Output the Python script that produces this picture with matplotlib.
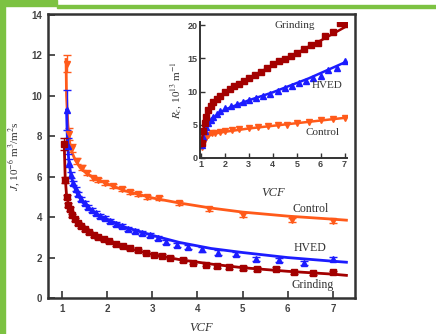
import matplotlib
matplotlib.use("Agg")
import matplotlib.pyplot as plt
from matplotlib.patches import Rectangle

# ---- main panel: flux J vs VCF (markers = measured, lines = fit)
ctrl_vcf = [1.10, 1.15, 1.22, 1.33, 1.44, 1.56, 1.69, 1.80, 1.96, 2.13, 2.33,
            2.51, 2.69, 2.89, 3.15, 3.60, 4.25, 5.00, 6.10, 7.00]
ctrl_j = [11.6, 8.1, 7.4, 6.8, 6.45, 6.2, 5.95, 5.85, 5.7, 5.55, 5.4,
          5.25, 5.15, 5.0, 4.95, 4.7, 4.4, 4.1, 3.85, 3.8]
ctrl_err = [0.4, 0.3, 0.2, 0.15, 0.12, 0.1, 0.1, 0.1, 0.1, 0.1, 0.1,
            0.1, 0.1, 0.1, 0.1, 0.1, 0.1, 0.1, 0.1, 0.1]

hved_vcf = [1.10, 1.13, 1.16, 1.20, 1.25, 1.30, 1.36, 1.42, 1.50, 1.58, 1.66,
            1.75, 1.85, 1.96, 2.07, 2.20, 2.33, 2.47, 2.62, 2.78, 2.95, 3.12,
            3.30, 3.55, 3.80, 4.10, 4.45, 4.85, 5.30, 5.80, 6.35, 7.00]
hved_j = [9.3, 7.5, 6.7, 6.1, 5.7, 5.4, 5.15, 4.9, 4.7, 4.5, 4.35,
          4.2, 4.05, 3.95, 3.8, 3.65, 3.55, 3.4, 3.3, 3.2, 3.1, 2.95,
          2.75, 2.6, 2.5, 2.4, 2.25, 2.2, 1.95, 1.9, 1.75, 1.95]
hved_err = [1.0, 0.4, 0.2, 0.15, 0.1, 0.1, 0.1, 0.1, 0.1, 0.1, 0.1,
            0.1, 0.1, 0.1, 0.1, 0.1, 0.1, 0.1, 0.1, 0.1, 0.1, 0.1,
            0.1, 0.1, 0.1, 0.1, 0.1, 0.1, 0.1, 0.1, 0.1, 0.1]

grind_vcf = [1.05, 1.07, 1.10, 1.14, 1.18, 1.23, 1.29, 1.35, 1.42, 1.50, 1.60,
             1.70, 1.80, 1.92, 2.05, 2.20, 2.35, 2.50, 2.68, 2.85, 3.03, 3.22,
             3.40, 3.69, 3.91, 4.18, 4.44, 4.69, 5.00, 5.33, 5.73, 6.13, 6.56, 7.00]
grind_j = [7.6, 5.85, 5.0, 4.6, 4.4, 4.1, 3.9, 3.7, 3.55, 3.4, 3.25,
           3.1, 3.0, 2.9, 2.8, 2.65, 2.55, 2.45, 2.35, 2.25, 2.15, 2.1,
           2.0, 1.88, 1.75, 1.65, 1.58, 1.53, 1.48, 1.43, 1.45, 1.28, 1.23, 1.28]
grind_err = [0.3, 0.15, 0.1, 0.1, 0.08, 0.08, 0.08, 0.08, 0.08, 0.08, 0.08,
             0.08, 0.08, 0.08, 0.08, 0.08, 0.08, 0.08, 0.08, 0.08, 0.08, 0.08,
             0.08, 0.08, 0.08, 0.08, 0.08, 0.08, 0.08, 0.08, 0.08, 0.08, 0.08, 0.08]

ctrl_fit_x = [1.09, 1.10, 1.13, 1.17, 1.22, 1.30, 1.40, 1.55, 1.75, 2.0, 2.4,
              3.0, 3.6, 4.3, 5.0, 6.0, 7.0, 7.3]
ctrl_fit_j = [11.8, 10.0, 8.6, 7.7, 7.2, 6.8, 6.45, 6.15, 5.9, 5.65, 5.3,
              4.95, 4.7, 4.45, 4.25, 4.05, 3.9, 3.85]
hved_fit_x = [1.10, 1.12, 1.15, 1.20, 1.27, 1.35, 1.45, 1.60, 1.80, 2.0, 2.4,
              3.0, 3.6, 4.3, 5.0, 6.0, 7.0, 7.3]
hved_fit_j = [9.3, 7.8, 6.8, 6.05, 5.5, 5.1, 4.75, 4.4, 4.1, 3.9, 3.5,
              3.1, 2.75, 2.45, 2.25, 2.0, 1.82, 1.77]
grind_fit_x = [1.05, 1.07, 1.10, 1.15, 1.22, 1.30, 1.40, 1.55, 1.75, 2.0, 2.4,
               3.0, 3.6, 4.3, 5.0, 6.0, 7.0, 7.3]
grind_fit_j = [7.6, 6.0, 5.1, 4.55, 4.15, 3.85, 3.6, 3.35, 3.05, 2.85, 2.5,
               2.15, 1.9, 1.68, 1.5, 1.32, 1.18, 1.12]

# ---- inset: cake resistance Rc vs VCF
rc_grind_vcf = [1.05, 1.1, 1.15, 1.2, 1.3, 1.4, 1.5, 1.65, 1.8, 2.0, 2.2, 2.4,
                2.6, 2.8, 3.0, 3.25, 3.5, 3.75, 4.0, 4.25, 4.5, 4.75, 5.0,
                5.3, 5.6, 5.9, 6.2, 6.5, 6.8, 7.0]
rc_grind = [2.3, 4.0, 5.3, 6.2, 7.3, 7.9, 8.4, 8.9, 9.4, 9.9, 10.4, 10.8,
            11.2, 11.6, 12.0, 12.5, 13.0, 13.6, 14.2, 14.6, 14.9, 15.3, 15.8,
            16.5, 17.0, 17.3, 18.4, 19.0, 20.3, 20.2]
rc_hved_vcf = [1.05, 1.1, 1.15, 1.2, 1.3, 1.4, 1.5, 1.65, 1.8, 2.0, 2.25, 2.5,
               2.75, 3.0, 3.3, 3.6, 3.9, 4.2, 4.5, 4.8, 5.1, 5.4, 5.7, 6.0,
               6.3, 6.7, 7.0]
rc_hved = [2.0, 3.2, 4.0, 4.6, 5.3, 5.8, 6.2, 6.7, 7.1, 7.5, 7.9, 8.2,
           8.5, 8.8, 9.1, 9.4, 9.7, 10.1, 10.5, 10.8, 11.3, 11.6, 12.1, 12.4,
           13.2, 13.6, 14.6]
rc_ctrl_vcf = [1.05, 1.1, 1.15, 1.2, 1.3, 1.45, 1.6, 1.8, 2.0, 2.3, 2.6, 3.0,
               3.4, 3.8, 4.2, 4.6, 5.0, 5.5, 6.0, 6.5, 7.0]
rc_ctrl = [1.6, 2.3, 2.9, 3.2, 3.5, 3.7, 3.8, 3.9, 4.0, 4.15, 4.3, 4.5,
           4.6, 4.75, 4.9, 5.0, 5.3, 5.4, 5.7, 5.9, 6.1]

rc_fit_x = [1.02, 1.05, 1.1, 1.2, 1.35, 1.5, 1.75, 2.0, 2.5, 3.0, 3.5, 4.0,
            4.5, 5.0, 5.5, 6.0, 6.5, 7.0]
rc_grind_fit = [1.8, 3.0, 4.3, 5.9, 7.3, 8.2, 9.1, 9.8, 11.0, 12.0, 13.0, 14.0,
                14.9, 15.8, 16.8, 17.7, 18.7, 19.7]
rc_hved_fit = [1.8, 2.6, 3.5, 4.5, 5.4, 6.0, 6.7, 7.3, 8.0, 8.7, 9.3, 9.9,
               10.6, 11.3, 12.0, 12.8, 13.6, 14.4]
rc_ctrl_fit = [1.6, 2.1, 2.6, 3.1, 3.4, 3.6, 3.8, 3.95, 4.2, 4.45, 4.65, 4.85,
               5.05, 5.25, 5.45, 5.65, 5.85, 6.05]

c_ctrl = "#ff5a1a"
c_hved = "#1c1cff"
c_grind = "#a30000"
green = "#7cc242"
serif = "Liberation Serif"
sans = "Liberation Sans"
plt.rcParams["mathtext.fontset"] = "stix"

fig = plt.figure(figsize=(4.36, 3.34), dpi=100)

# green page decoration around the figure
fig.patches.append(Rectangle((0, 0), 5 / 436, 1, transform=fig.transFigure,
                             color=green, zorder=-1))
fig.patches.append(Rectangle((0, 1 - 6 / 334), 57 / 436, 6 / 334,
                             transform=fig.transFigure, color=green, zorder=-1))
fig.patches.append(Rectangle((57 / 436, 1 - 7.5 / 334), 1, 2.5 / 334,
                             transform=fig.transFigure, color=green, zorder=-1))

ax = fig.add_axes([48 / 436, 36 / 334, 307 / 436, 284 / 334])

series = [
    (ctrl_vcf, ctrl_j, ctrl_err, ctrl_fit_x, ctrl_fit_j, c_ctrl, "v"),
    (hved_vcf, hved_j, hved_err, hved_fit_x, hved_fit_j, c_hved, "^"),
    (grind_vcf, grind_j, grind_err, grind_fit_x, grind_fit_j, c_grind, "s"),
]
for x, y, e, fx, fy, col, mk in series:
    ax.errorbar(x, y, yerr=e, fmt=mk, color=col, ms=5, mec=col,
                elinewidth=1, capsize=3, capthick=1)
    ax.plot(fx, fy, color=col, lw=2)

ax.set_xlim(0.69, 7.49)
ax.set_ylim(0, 14.05)
ax.set_xticks(range(1, 8))
ax.set_yticks(range(0, 15, 2))
ax.tick_params(direction="in", length=5, width=1.2, colors="#333333",
               labelsize=7, pad=4)
for lab in ax.get_xticklabels() + ax.get_yticklabels():
    lab.set_fontfamily(sans)
    lab.set_fontweight("bold")
    lab.set_color("#444444")
for sp in ax.spines.values():
    sp.set_linewidth(1.8)
    sp.set_color("#333333")

ax.set_xlabel("VCF", fontfamily=serif, fontstyle="italic", fontsize=9,
              color="#333333", labelpad=6)
ax.set_ylabel(r"$J$, 10$^{-6}$ m$^3$/m$^2$s", fontfamily=serif, fontsize=8,
              color="#333333", labelpad=6)

ax.text(6.51, 4.4, "Control", fontfamily=serif, fontsize=8.5,
        color="#333333", ha="center", va="center")
ax.text(6.5, 2.47, "HVED", fontfamily=serif, fontsize=8.5,
        color="#333333", ha="center", va="center")
ax.text(6.55, 0.65, "Grinding", fontfamily=serif, fontsize=8.5,
        color="#333333", ha="center", va="center")

# inset
axi = fig.add_axes([200 / 436, 176 / 334, 147 / 436, 136 / 334])
inset = [
    (rc_ctrl_vcf, rc_ctrl, rc_ctrl_fit, c_ctrl, "v"),
    (rc_hved_vcf, rc_hved, rc_hved_fit, c_hved, "^"),
    (rc_grind_vcf, rc_grind, rc_grind_fit, c_grind, "s"),
]
for x, y, fy, col, mk in inset:
    axi.plot(x, y, mk, color=col, ms=4, mec=col)
    axi.plot(rc_fit_x, fy, color=col, lw=1.8)

axi.set_xlim(0.96, 7.1)
axi.set_ylim(0, 20.5)
axi.set_xticks(range(1, 8))
axi.set_yticks(range(0, 21, 5))
axi.spines["top"].set_visible(False)
axi.spines["right"].set_visible(False)
for sp in ("left", "bottom"):
    axi.spines[sp].set_linewidth(1.4)
    axi.spines[sp].set_color("#333333")
axi.tick_params(direction="in", length=3.5, width=1, colors="#333333",
                labelsize=6.5, pad=1.5)
for lab in axi.get_xticklabels() + axi.get_yticklabels():
    lab.set_fontfamily(sans)
    lab.set_fontweight("bold")
    lab.set_color("#444444")
axi.patch.set_alpha(0)

axi.set_xlabel("VCF", fontfamily=serif, fontstyle="italic", fontsize=9,
               color="#333333", labelpad=13)
axi.set_ylabel(r"$R_c$, 10$^{13}$ m$^{-1}$", fontfamily=serif, fontsize=8,
               color="#333333", labelpad=3)

axi.text(4.9, 20.0, "Grinding", fontfamily=serif, fontsize=8,
         color="#333333", ha="center", va="center")
axi.text(6.25, 11.0, "HVED", fontfamily=serif, fontsize=8,
         color="#333333", ha="center", va="center")
axi.text(6.1, 3.8, "Control", fontfamily=serif, fontsize=8,
         color="#333333", ha="center", va="center")

fig.savefig("out.png", dpi=100)
